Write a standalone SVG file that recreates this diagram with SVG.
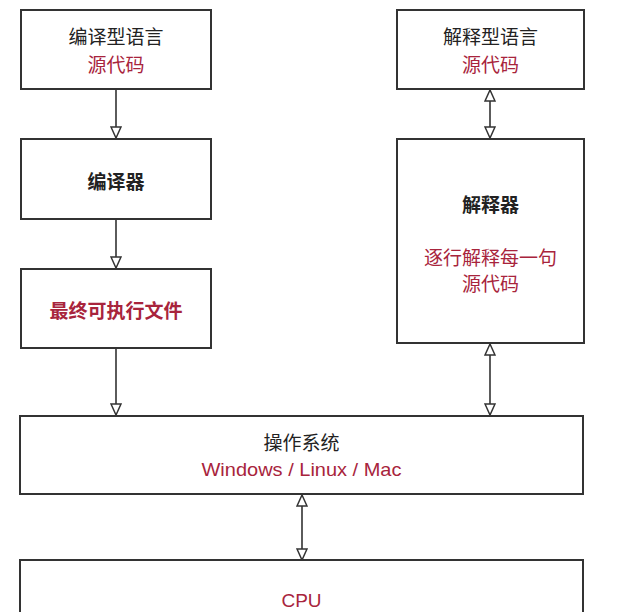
<svg xmlns="http://www.w3.org/2000/svg" width="633" height="612" viewBox="0 0 633 612">
<style>
.box{fill:#fff;stroke:#333;stroke-width:2}
.t{font-family:"Liberation Sans","Noto Sans CJK SC",sans-serif;font-size:19px;fill:#222;text-anchor:middle}
.r{fill:#a8243c}
.b{font-weight:bold}
.c{stroke:#333;stroke-width:1.6;fill:none}
</style>
<defs>
<marker id="ah" viewBox="0 0 13 12" refX="12" refY="6" markerWidth="13" markerHeight="12" markerUnits="userSpaceOnUse" orient="auto-start-reverse">
<path d="M1,1 L12,6 L1,11 Z" fill="#fff" stroke="#333" stroke-width="1.5"/>
</marker>
</defs>
<rect width="633" height="612" fill="#fff"/>
<g id="connectors">
<line class="c" x1="116" y1="90" x2="116" y2="138" marker-end="url(#ah)"/>
<line class="c" x1="116" y1="219" x2="116" y2="268" marker-end="url(#ah)"/>
<line class="c" x1="116" y1="349" x2="116" y2="415" marker-end="url(#ah)"/>
<line class="c" x1="490" y1="90" x2="490" y2="138" marker-start="url(#ah)" marker-end="url(#ah)"/>
<line class="c" x1="490" y1="344" x2="490" y2="415" marker-start="url(#ah)" marker-end="url(#ah)"/>
<line class="c" x1="302" y1="495" x2="302" y2="560" marker-start="url(#ah)" marker-end="url(#ah)"/>
</g>
<g id="compiled-source">
<rect class="box" x="21" y="10" width="190" height="79"/>
<text class="t" x="116" y="44">编译型语言</text>
<text class="t r" x="116" y="72">源代码</text>
</g>
<g id="compiler">
<rect class="box" x="21" y="139" width="190" height="80"/>
<text class="t b" x="116" y="189">编译器</text>
</g>
<g id="executable">
<rect class="box" x="21" y="269" width="190" height="79"/>
<text class="t b r" x="116" y="318">最终可执行文件</text>
</g>
<g id="interpreted-source">
<rect class="box" x="397" y="10" width="187" height="79"/>
<text class="t" x="490.5" y="44">解释型语言</text>
<text class="t r" x="490.5" y="72">源代码</text>
</g>
<g id="interpreter">
<rect class="box" x="397" y="139" width="187" height="204"/>
<text class="t b" x="490.5" y="212">解释器</text>
<text class="t r" x="490.5" y="265">逐行解释每一句</text>
<text class="t r" x="490.5" y="291">源代码</text>
</g>
<g id="os">
<rect class="box" x="20" y="416" width="563" height="78"/>
<text class="t" x="301.5" y="450">操作系统</text>
<text class="t r" x="301.5" y="476" textLength="200" lengthAdjust="spacingAndGlyphs">Windows / Linux / Mac</text>
</g>
<g id="cpu">
<rect class="box" x="20" y="560" width="563" height="80"/>
<text class="t r" x="301.5" y="607" font-size="20">CPU</text>
</g>
</svg>
